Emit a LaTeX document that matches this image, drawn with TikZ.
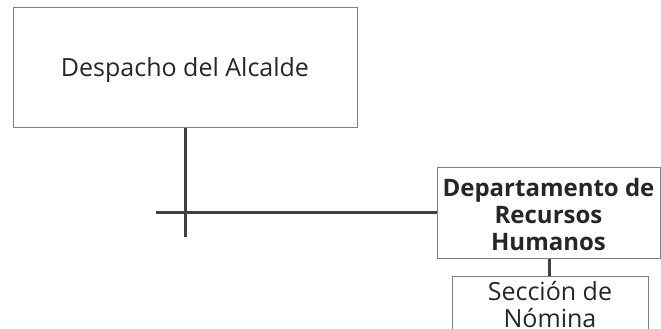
\documentclass[tikz,border=0pt]{standalone}
\usepackage{fontspec}
\setmainfont{Open Sans}
\begin{document}
\begin{tikzpicture}[x=1pt,y=-1pt,
  box/.style={draw=black!50,line width=1pt,rectangle,inner sep=0pt},
  conn/.style={draw=black!75,line width=3pt},
  lbl/.style={font=\fontsize{25}{27}\selectfont,align=center,text=black!85,inner sep=0pt}]
\useasboundingbox (0,0) rectangle (661,329);
\fill[white] (0,0) rectangle (661,329);
\node[box,minimum width=344pt,minimum height=119pt] (a) at (185,67.5) {};
\node[lbl] (at) at (185,70) {Despacho del Alcalde};
\node[box,minimum width=223pt,minimum height=91pt] (b) at (548.5,212.5) {};
\node[lbl,font=\fontsize{24}{27}\bfseries] (bt) at (548.5,214) {Departamento de\\Recursos\\Humanos};
\node[box,minimum width=196pt,minimum height=70pt] (c) at (550,311) {};
\node[lbl] (ct) at (550,305) {Sección de\\Nómina};
\coordinate (v2) at (185,237);
\coordinate (h1) at (156,212.5);
\draw[conn] (a.south) -- (v2);
\draw[conn] (h1) -- (b.west);
\draw[conn] (b.south -| 549,0) -- (c.north -| 549,0);
\end{tikzpicture}
\end{document}
